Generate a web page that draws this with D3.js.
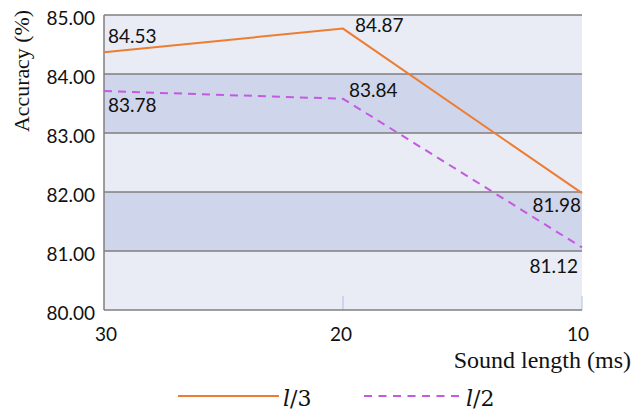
<!DOCTYPE html>
<html><head><meta charset="utf-8">
<script src="https://cdn.jsdelivr.net/npm/d3@7"></script>
<style>body{margin:0;background:#fff}svg{display:block}</style>
</head><body>
<svg id="c" width="634" height="411"></svg>
<script>
const categories = ["30", "20", "10"];
const seriesNames = ["l/3", "l/2"];
const valuesL3 = [84.37, 84.77, 81.98];
const valuesL2 = [83.71, 83.58, 81.06];
const labelsL3 = ["84.53", "84.87", "81.98"];
const labelsL2 = ["83.78", "83.84", "81.12"];
const yTicks = [80, 81, 82, 83, 84, 85];

const svg = d3.select("#c");
const L = 104, R = 582, T = 15, B = 310;
const x = d3.scalePoint().domain(categories).range([L, R]).padding(0);
const y = d3.scaleLinear().domain([80, 85]).range([B, T]);

// bands
for (let i = 0; i < yTicks.length - 1; i++) {
  svg.append("rect").attr("x", L).attr("width", R - L)
    .attr("y", y(yTicks[i + 1])).attr("height", y(yTicks[i]) - y(yTicks[i + 1]))
    .attr("fill", i % 2 === 1 ? "#CFD5EA" : "#E9EBF5");
}
// grid lines
svg.append("g").selectAll("line").data(yTicks.slice(1)).join("line")
  .attr("x1", L).attr("x2", R).attr("y1", d => y(d)).attr("y2", d => y(d))
  .attr("stroke", "#7f7f7f").attr("stroke-width", 1.5);
// small x tick marks
svg.append("g").selectAll("line").data(categories.slice(1)).join("line")
  .attr("x1", d => x(d)).attr("x2", d => x(d)).attr("y1", B - 14).attr("y2", B)
  .attr("stroke", "#A9C0E4").attr("stroke-width", 1);
// axes lines
svg.append("line").attr("x1", L).attr("x2", L).attr("y1", T).attr("y2", B).attr("stroke", "#7f7f7f").attr("stroke-width", 1.5);
svg.append("line").attr("x1", L).attr("x2", R).attr("y1", B).attr("y2", B).attr("stroke", "#7f7f7f").attr("stroke-width", 1.5);

// y tick labels
svg.append("g").selectAll("text").data(yTicks).join("text")
  .attr("x", 95).attr("y", d => y(d) + 5).attr("text-anchor", "end")
  .attr("dominant-baseline", "middle")
  .attr("font-family", "Lato").attr("font-size", 19).attr("fill", "#111")
  .text(d => d.toFixed(2));
// x tick labels
svg.append("g").selectAll("text").data(categories).join("text")
  .attr("x", d => x(d) + (d === "30" ? 2 : d === "10" ? -4 : -2)).attr("y", 336)
  .attr("text-anchor", "middle").attr("dominant-baseline", "middle")
  .attr("font-family", "Lato").attr("font-size", 19).attr("fill", "#111")
  .text(d => d);

// axis titles
svg.append("text").attr("transform", "translate(24,71) rotate(-90)")
  .attr("text-anchor", "middle").attr("dominant-baseline", "middle")
  .attr("font-family", "Liberation Serif").attr("font-size", 22).attr("fill", "#111")
  .attr("textLength", 122).attr("lengthAdjust", "spacingAndGlyphs")
  .text("Accuracy (%)");
svg.append("text").attr("x", 631).attr("y", 362).attr("text-anchor", "end")
  .attr("dominant-baseline", "middle")
  .attr("font-family", "Liberation Serif").attr("font-size", 24).attr("fill", "#111")
  .text("Sound length (ms)");

const line = d3.line().x((d, i) => x(categories[i])).y(d => y(d));
svg.append("path").attr("d", line(valuesL3)).attr("fill", "none")
  .attr("stroke", "#ED7D31").attr("stroke-width", 2);
svg.append("path").attr("d", line(valuesL2)).attr("fill", "none")
  .attr("stroke", "#C35AE0").attr("stroke-width", 2).attr("stroke-dasharray", "8,6");

// data labels
const lab = (arr, pos) => svg.append("g").selectAll("text").data(arr).join("text")
  .attr("x", (d, i) => pos[i][0]).attr("y", (d, i) => pos[i][1])
  .attr("text-anchor", (d, i) => pos[i][2])
  .attr("dominant-baseline", "middle")
  .attr("font-family", "Lato").attr("font-size", 19).attr("fill", "#111").text(d => d);
lab(labelsL3, [[108, 38, "start"], [355, 27, "start"], [581, 207, "end"]]);
lab(labelsL2, [[108, 107, "start"], [349, 92, "start"], [578, 268, "end"]]);

// legend
const lg = svg.append("g");
lg.append("line").attr("x1", 178).attr("x2", 279).attr("y1", 396).attr("y2", 396)
  .attr("stroke", "#ED7D31").attr("stroke-width", 2);
lg.append("line").attr("x1", 364).attr("x2", 462).attr("y1", 396).attr("y2", 396)
  .attr("stroke", "#C35AE0").attr("stroke-width", 2).attr("stroke-dasharray", "8,6.5");
const lt = lg.selectAll("text.lt").data(seriesNames).join("text")
  .attr("x", (d, i) => i === 0 ? 283 : 466).attr("y", 406)
  .attr("font-family", "DejaVu Serif")
  .attr("font-size", 22).attr("fill", "#111");
lt.append("tspan").attr("font-style", "italic").text(d => d.split("/")[0]);
lt.append("tspan").text(d => "/" + d.split("/")[1]);
</script>
</body></html>
